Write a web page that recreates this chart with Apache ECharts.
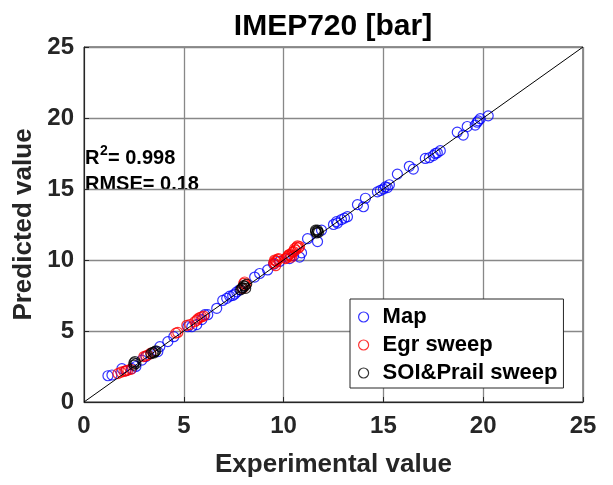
<!DOCTYPE html>
<html><head><meta charset="utf-8">
<script src="https://cdn.jsdelivr.net/npm/echarts@6/dist/echarts.min.js"></script>
<style>html,body{margin:0;padding:0;background:#fff}#c{width:613px;height:485px}</style>
</head><body><div id="c"></div>
<script>
const chartTitle = 'IMEP720 [bar]';
const xName = 'Experimental value';
const yName = 'Predicted value';
const axisTicks = [0, 5, 10, 15, 20, 25];
const seriesNames = ['Map', 'Egr sweep', 'SOI&Prail sweep'];
const r2Value = '0.998';
const rmseValue = '0.18';

const mapPts = [
  [1.2,1.85],[1.4,1.9],[1.9,2.35],[2.1,2.2],[2.4,2.35],[2.6,2.5],[2.9,2.95],[3.1,3.2],
  [3.7,3.55],[3.8,3.9],[4.2,4.25],[4.5,4.6],[5.2,5.3],[5.4,5.3],[5.65,5.45],[5.9,5.8],
  [6.05,6.15],[6.2,6.15],[6.65,6.6],[6.95,7.15],[7.15,7.3],[7.3,7.45],[7.45,7.5],[7.65,7.75],
  [7.8,7.9],[8.55,8.8],[8.8,9.05],[9.2,9.3],[9.5,9.7],[9.8,9.9],[10.3,10.1],[10.5,10.3],
  [10.8,10.2],[10.9,10.5],[11.2,11.5],[11.7,11.3],[11.9,12.1],[12.5,12.5],[12.65,12.7],[12.9,12.85],
  [13.05,12.95],[13.2,13.05],[13.7,13.9],[14.0,13.75],[14.1,14.35],[14.7,14.8],[14.85,14.9],[15.0,15.0],
  [15.1,15.15],[15.3,15.3],[15.7,16.05],[16.3,16.6],[16.5,16.4],[17.1,17.15],[17.3,17.2],[17.6,17.5],
  [17.7,17.55],[17.85,17.7],[18.7,19.0],[19.0,18.8],[19.2,19.4],[19.6,19.5],[19.7,19.7],[19.85,19.95],
  [20.25,20.15],[17.5,17.35],[19.75,19.8],[15.2,15.1],[12.7,12.6],[7.55,7.6]
];
const egrPts = [
  [1.7,2.0],[1.85,2.1],[2.0,2.15],[2.2,2.25],[2.35,2.3],[3.0,3.2],[3.2,3.3],[3.35,3.45],
  [4.6,4.85],[4.7,4.9],[5.15,5.4],[5.3,5.45],[5.55,5.65],[5.7,5.85],[5.9,6.0],[6.0,6.05],
  [7.95,8.0],[8.05,8.45],[8.1,8.25],[9.5,9.8],[9.55,10.0],[9.65,9.9],[9.75,10.1],[10.1,10.1],
  [10.2,10.25],[10.3,10.4],[10.45,10.55],[10.55,10.8],[10.7,11.0],[10.75,10.85],[10.4,10.2],[9.6,9.6],
  [9.55,9.75],[9.6,9.95],[9.7,10.05],[10.15,10.15],[10.25,10.35],[10.35,10.3],[10.5,10.6],[10.6,10.7],
  [10.65,10.9],[10.8,10.95],[5.8,5.95],[5.65,5.75],[2.1,2.2],[3.1,3.25],[8.0,8.35]
];
const soiPts = [
  [2.5,2.6],[2.55,2.85],[2.6,2.7],[2.5,2.75],[3.35,3.4],[3.45,3.5],[3.55,3.55],[3.6,3.6],[3.5,3.45],
  [7.85,7.9],[7.95,8.05],[8.05,8.15],[8.15,8.3],[8.1,8.0],[7.9,8.0],[8.0,8.2],
  [11.6,12.0],[11.7,12.1],[11.75,11.95],[11.65,11.9],[11.7,12.0],[11.6,12.1]
];
const diagonal = [[0,0],[25,25]];

const FONT = '"Liberation Sans", Arial, sans-serif';
const colors = ['#0000ff', '#ff0000', '#000000'];

function axis(name, gap, margin) {
  return {
    type: 'value', min: axisTicks[0], max: axisTicks[axisTicks.length - 1],
    interval: axisTicks[1] - axisTicks[0],
    name: name, nameLocation: 'middle', nameGap: gap,
    nameTextStyle: { fontFamily: FONT, fontWeight: 'bold', fontSize: 26, color: '#262626' },
    axisLine: { show: true, lineStyle: { color: '#262626', width: 1 } },
    axisTick: { show: true, inside: true, length: 5, lineStyle: { color: '#262626' } },
    axisLabel: { fontFamily: FONT, fontWeight: 'bold', fontSize: 24, color: '#262626', margin: margin },
    splitLine: { show: true, lineStyle: { color: '#888888', width: 1.3 } }
  };
}

function scatter(i, data) {
  return {
    name: seriesNames[i], type: 'scatter', data: data, symbol: 'circle', symbolSize: 10,
    itemStyle: { color: 'transparent', borderColor: colors[i], borderWidth: 1.2 },
    z: 3 + i
  };
}

const chart = echarts.init(document.getElementById('c'), null, { renderer: 'canvas' });
chart.setOption({
  backgroundColor: '#ffffff',
  animation: false,
  grid: { left: 84, right: 30, top: 47, bottom: 83, show: true, borderColor: '#262626', borderWidth: 1, backgroundColor: 'transparent' },
  xAxis: axis(xName, 50, 12),
  yAxis: axis(yName, 47, 10),
  legend: {
    data: seriesNames.map((n, i) => ({ name: n, icon: 'circle', itemStyle: { color: 'transparent', borderColor: colors[i], borderWidth: 1.2 } })),
    orient: 'vertical', left: 350, top: 299,
    itemWidth: 28, itemHeight: 10, itemGap: 6,
    padding: [7, 6, 4, 8],
    backgroundColor: '#ffffff', borderColor: '#262626', borderWidth: 1, borderRadius: 0,
    textStyle: { fontFamily: FONT, fontWeight: 'bold', fontSize: 22, color: '#000', lineHeight: 20 }
  },
  series: [
    scatter(0, mapPts),
    scatter(1, egrPts),
    scatter(2, soiPts),
    { type: 'line', data: diagonal, symbol: 'none', silent: true, lineStyle: { color: '#000', width: 1 }, z: 10 }
  ],
  graphic: [
    { type: 'text', position: [333, 27], style: { text: chartTitle, font: 'bold 30px ' + FONT, fill: '#000', textAlign: 'center', textVerticalAlign: 'middle' }, silent: true },
    { type: 'text', position: [85, 158], style: { text: 'R', font: 'bold 20px ' + FONT, fill: '#000', textAlign: 'left', textVerticalAlign: 'middle' }, silent: true },
    { type: 'text', position: [100, 151], style: { text: '2', font: 'bold 14px ' + FONT, fill: '#000', textAlign: 'left', textVerticalAlign: 'middle' }, silent: true },
    { type: 'text', position: [108, 158], style: { text: '= ' + r2Value, font: 'bold 20px ' + FONT, fill: '#000', textAlign: 'left', textVerticalAlign: 'middle' }, silent: true },
    { type: 'text', position: [85, 184], style: { text: 'RMSE= ' + rmseValue, font: 'bold 20px ' + FONT, fill: '#000', textAlign: 'left', textVerticalAlign: 'middle' }, silent: true }
  ]
});
</script></body></html>
